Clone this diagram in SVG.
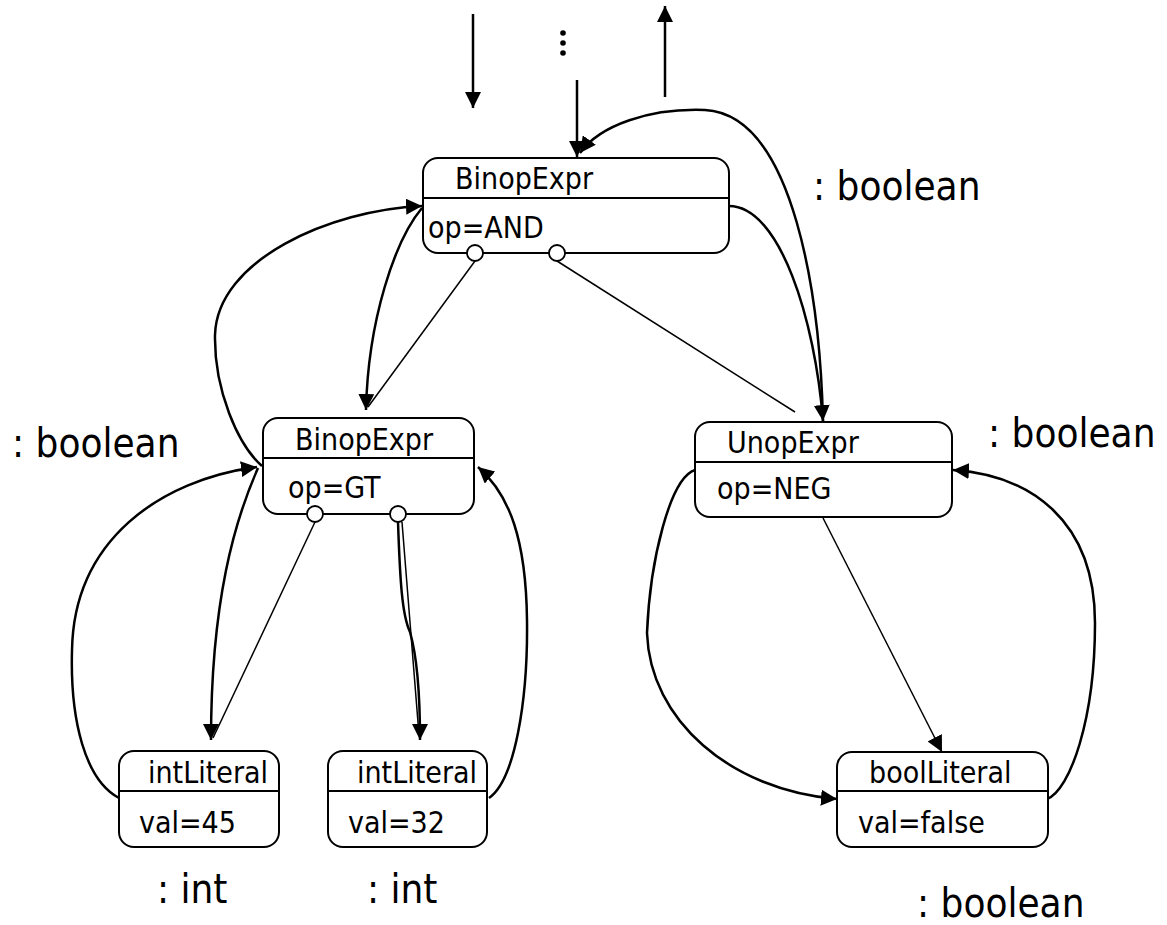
<svg xmlns="http://www.w3.org/2000/svg" width="1167" height="925" viewBox="0 0 1167 925">
  <style>
    .box { fill: #fff; stroke: #000; stroke-width: 2; }
    .sep { stroke: #000; stroke-width: 2; }
    .txt { font-family: "DejaVu Sans Condensed", "DejaVu Sans", sans-serif; font-size: 30px; fill: #000; }
    .type { font-family: "DejaVu Sans Condensed", "DejaVu Sans", sans-serif; font-size: 40px; fill: #000; }
    .flow { fill: none; stroke: #000; stroke-width: 2.5; }
    .child { fill: none; stroke: #000; stroke-width: 1.5; }
    .port { fill: #fff; stroke: #000; stroke-width: 1.8; }
  </style>
  <defs>
    <marker id="head" markerUnits="userSpaceOnUse" markerWidth="18" markerHeight="16" refX="16" refY="8" orient="auto">
      <path d="M0,0 L16,8 L0,16 Z" fill="#000"/>
    </marker>
  </defs>

  <rect width="1167" height="925" fill="#fff"/>

  <!-- connectors -->
  <g id="connectors">
    <!-- incoming / outgoing context -->
    <path class="flow" d="M473,14 L473,108" marker-end="url(#head)"/>
    <path class="flow" d="M577,80 L577,157" marker-end="url(#head)"/>
    <path class="flow" d="M665,97 L665,6" marker-end="url(#head)"/>
    <circle cx="563" cy="33" r="2.8"/>
    <circle cx="563" cy="43" r="2.8"/>
    <circle cx="563" cy="53" r="2.8"/>

    <!-- top BinopExpr <-> UnopExpr -->
    <path class="flow" d="M823,421 C820,300 795,115 705,110 C650,108 600,125 580,153" marker-end="url(#head)"/>
    <path class="flow" d="M729,206 C780,206 815,320 823,421" marker-end="url(#head)"/>
    <line class="child" x1="557" y1="261" x2="795" y2="412"/>

    <!-- top BinopExpr <-> BinopExpr GT -->
    <path class="flow" d="M262,466 C238,445 214,390 215,335 C217,260 330,210 422,206" marker-end="url(#head)"/>
    <path class="flow" d="M422,208 C395,240 368,320 366,410" marker-end="url(#head)"/>
    <line class="child" x1="475" y1="261" x2="368" y2="407"/>

    <!-- BinopExpr GT <-> intLiteral 45 -->
    <path class="flow" d="M258,468 C235,520 211,600 211,740" marker-end="url(#head)"/>
    <line class="child" x1="315" y1="522" x2="213" y2="738"/>
    <path class="flow" d="M119,798 C85,780 70,720 72,650 C74,540 160,480 257,467" marker-end="url(#head)"/>

    <!-- BinopExpr GT <-> intLiteral 32 -->
    <path class="flow" d="M398,522 C400,580 402,615 410,632 C418,660 420,700 420,740" marker-end="url(#head)"/>
    <line class="child" x1="402" y1="522" x2="419" y2="735"/>
    <path class="flow" d="M489,798 C515,780 528,700 527,620 C526,540 510,495 478,467" marker-end="url(#head)"/>

    <!-- UnopExpr <-> boolLiteral -->
    <path class="child" d="M823,518 L942,752" marker-end="url(#head)"/>
    <path class="flow" d="M695,470 C670,478 650,560 647,633 C650,720 730,790 837,799" marker-end="url(#head)"/>
    <path class="flow" d="M1047,799 C1070,790 1095,720 1095,623 C1095,520 1030,475 953,470" marker-end="url(#head)"/>
  </g>

  <!-- nodes -->
  <g id="binop-and">
    <rect class="box" x="423" y="158" width="306" height="95" rx="15"/>
    <line class="sep" x1="423" y1="198" x2="729" y2="198"/>
    <text class="txt" x="455" y="189">BinopExpr</text>
    <text class="txt" x="428" y="238">op=AND</text>
    <circle class="port" cx="475" cy="253" r="8"/>
    <circle class="port" cx="557" cy="253" r="8"/>
  </g>

  <g id="binop-gt">
    <rect class="box" x="263" y="418" width="211" height="96" rx="15"/>
    <line class="sep" x1="263" y1="458" x2="475" y2="458"/>
    <text class="txt" x="295" y="450">BinopExpr</text>
    <text class="txt" x="288" y="498">op=GT</text>
    <circle class="port" cx="315" cy="514" r="8"/>
    <circle class="port" cx="398" cy="514" r="8"/>
  </g>

  <g id="unop-neg">
    <rect class="box" x="695" y="422" width="257" height="95" rx="15"/>
    <line class="sep" x1="695" y1="462" x2="952" y2="462"/>
    <text class="txt" x="727" y="453">UnopExpr</text>
    <text class="txt" x="717" y="499">op=NEG</text>
  </g>

  <g id="int-45">
    <rect class="box" x="119" y="751" width="160" height="96" rx="15"/>
    <line class="sep" x1="119" y1="791" x2="279" y2="791"/>
    <text class="txt" x="148" y="783">intLiteral</text>
    <text class="txt" x="139" y="833">val=45</text>
  </g>

  <g id="int-32">
    <rect class="box" x="328" y="751" width="159" height="96" rx="15"/>
    <line class="sep" x1="328" y1="791" x2="487" y2="791"/>
    <text class="txt" x="357" y="783">intLiteral</text>
    <text class="txt" x="348" y="833">val=32</text>
  </g>

  <g id="bool-false">
    <rect class="box" x="837" y="752" width="211" height="95" rx="15"/>
    <line class="sep" x1="837" y1="791" x2="1048" y2="791"/>
    <text class="txt" x="869" y="783">boolLiteral</text>
    <text class="txt" x="858" y="833">val=false</text>
  </g>

  <!-- type annotations -->
  <g id="types">
    <text class="type" x="813" y="200">: boolean</text>
    <text class="type" x="12" y="457">: boolean</text>
    <text class="type" x="988" y="447">: boolean</text>
    <text class="type" x="157" y="903">: int</text>
    <text class="type" x="367" y="903">: int</text>
    <text class="type" x="917" y="917">: boolean</text>
  </g>
</svg>
